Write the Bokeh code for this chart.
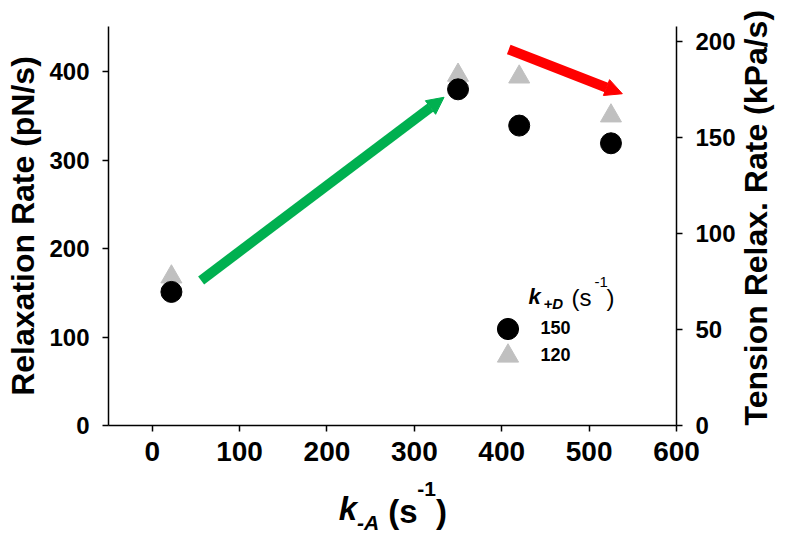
import math
from bokeh.plotting import figure
from bokeh.models import (Range1d, LinearAxis, FixedTicker, Arrow, NormalHead,
                          Label, Legend, LegendItem)
from bokeh.embed import file_html
from bokeh.resources import INLINE

# ---- data ----
k_A = [22, 350, 420, 525]                 # k_-A (s^-1)
rate_kD150 = [151, 380, 339, 319]         # relaxation rate, k_+D = 150
rate_kD120 = [168, 396, 394, 350]         # relaxation rate, k_+D = 120
series_labels = ["150", "120"]

x_ticks = [0, 100, 200, 300, 400, 500, 600]
left_ticks = [0, 100, 200, 300, 400]
right_ticks = [0, 50, 100, 150, 200]

green_arrow = {"x_start": 56, "y_start": 164, "x_end": 334, "y_end": 371}
red_arrow = {"x_start": 408, "y_start": 425, "x_end": 538, "y_end": 375}

FONT = "Liberation Sans"
GREEN = "#00b050"
RED = "#ff0000"
GREY = "#c0c0c0"

p = figure(width=794, height=536, output_backend="svg", toolbar_location=None,
           x_range=Range1d(-50, 600), y_range=Range1d(0, 451),
           min_border_left=108, min_border_right=114,
           min_border_top=26, min_border_bottom=110)
p.extra_y_ranges = {"right": Range1d(0, 208)}
p.outline_line_color = None
p.grid.visible = False
p.background_fill_color = "white"
p.border_fill_color = "white"


def style_axis(ax, size, standoff):
    ax.axis_line_width = 1.5
    ax.axis_line_color = "black"
    ax.major_tick_line_width = 1.5
    ax.major_tick_line_color = "black"
    ax.major_tick_in = 0
    ax.major_tick_out = 6
    ax.minor_tick_line_color = None
    ax.major_label_text_font = FONT
    ax.major_label_text_font_size = f"{size}px"
    ax.major_label_text_font_style = "bold"
    ax.major_label_text_color = "black"
    ax.major_label_standoff = standoff
    ax.axis_label_text_font = FONT
    ax.axis_label_text_font_size = "32px"
    ax.axis_label_text_font_style = "bold"
    ax.axis_label_text_color = "black"


def text_axis(pieces, size, style, standoff, **kw):
    """Invisible axis that only carries text pieces at given positions."""
    ax = LinearAxis(ticker=FixedTicker(ticks=list(pieces.keys())),
                    major_label_overrides=pieces, **kw)
    ax.axis_line_color = None
    ax.major_tick_line_color = None
    ax.minor_tick_line_color = None
    ax.major_tick_out = 0
    ax.major_tick_in = 0
    ax.major_label_text_font = FONT
    ax.major_label_text_font_size = f"{size}px"
    ax.major_label_text_font_style = style
    ax.major_label_text_color = "black"
    ax.major_label_standoff = standoff
    return ax


p.xaxis.ticker = FixedTicker(ticks=x_ticks)
p.yaxis.ticker = FixedTicker(ticks=left_ticks)
style_axis(p.xaxis[0], 28, 10)
style_axis(p.yaxis[0], 24, 13)
p.yaxis[0].axis_label = "Relaxation Rate (pN/s)"
p.yaxis[0].axis_label_standoff = 5

right_axis = LinearAxis(y_range_name="right", ticker=FixedTicker(ticks=right_ticks))
style_axis(right_axis, 24, 13)
p.add_layout(right_axis, "right")

# right-hand title, reading bottom-to-top, starting at the foot of the axis
right_title = text_axis({0: "Tension Relax. Rate (kPa/s)"}, 32, "bold", 17,
                        y_range_name="right")
right_title.major_label_orientation = math.pi / 2
p.add_layout(right_title, "right")

# ---- x-axis title  k_{-A} (s^-1) from text pieces: ({x position: text}, px, style, standoff)
x_title_rows = [
    ({224: "k"}, 33, "bold italic", 26),
    ({287: "(s", 331: ")"}, 33, "bold", -37),
    ({247: "-A"}, 21, "bold italic", -22),
    ({314: "-1"}, 21, "bold", -55),
]
for pieces, size, style, standoff in x_title_rows:
    p.add_layout(text_axis(pieces, size, style, standoff), "below")

# ---- markers ----
r120 = p.scatter(k_A, rate_kD120, marker="triangle", size=21,
                 fill_color=GREY, line_color=GREY)
r150 = p.scatter(k_A, rate_kD150, marker="circle", size=21,
                 fill_color="black", line_color="black")

# ---- arrows ----
for spec, col in ((green_arrow, GREEN), (red_arrow, RED)):
    p.add_layout(Arrow(start=None,
                       end=NormalHead(size=17, fill_color=col, line_color=col, line_width=1),
                       line_color=col, line_width=10, **spec))

# ---- legend (one box per entry so entries sit close together) ----
for lbl, rend, bottom in ((series_labels[0], r150, 69.7), (series_labels[1], r120, 42.7)):
    p.add_layout(Legend(items=[LegendItem(label=lbl, renderers=[rend])],
                        location=(372.5, bottom), orientation="vertical",
                        glyph_width=53, glyph_height=53, label_standoff=7,
                        padding=0, margin=0, border_line_color=None,
                        background_fill_alpha=0,
                        label_text_font=FONT, label_text_font_size="18px",
                        label_text_font_style="bold", label_text_color="black"))


def piece(text, x, y, size, style):
    p.add_layout(Label(text=text, x=x, y=y, x_units="screen", y_units="screen",
                       text_font=FONT, text_font_size=f"{size}px",
                       text_font_style=style, text_color="black",
                       text_align="left", text_baseline="alphabetic"))


# legend title: k_{+D} (s^-1)
piece("k", 420, 128.7, 22, "bold italic")
piece("+D", 435, 121.7, 15, "bold italic")
piece("(s", 463, 127.7, 24, "normal")
piece("-1", 486, 143.7, 15, "normal")
piece(")", 498, 127.7, 24, "normal")

open("out.html", "w").write(file_html(p, INLINE))
